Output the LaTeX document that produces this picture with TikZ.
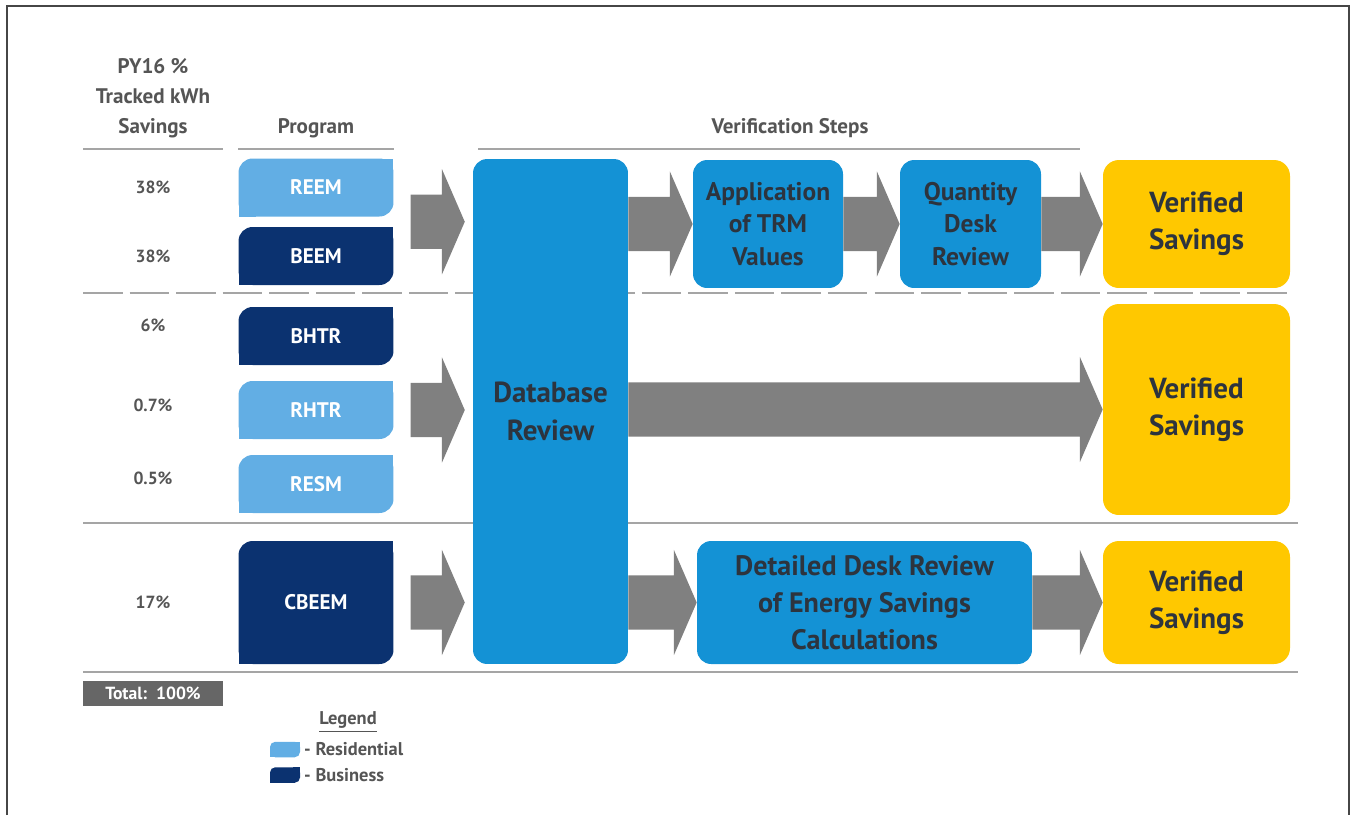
\documentclass[tikz,border=0pt]{standalone}
\usepackage{fontspec}
\setmainfont{PT Sans}
\usepackage{xcolor}
\usetikzlibrary{calc,positioning}
\definecolor{resblue}{RGB}{98,174,228}
\definecolor{busblue}{RGB}{11,50,112}
\definecolor{stepblue}{RGB}{20,146,213}
\definecolor{savyellow}{RGB}{255,200,0}
\definecolor{arrowgray}{RGB}{128,128,128}
\definecolor{rulegray}{RGB}{165,165,165}
\definecolor{txtgray}{RGB}{85,85,85}
\definecolor{boxtxt}{RGB}{45,52,62}
\definecolor{framegray}{RGB}{70,70,70}
\tikzset{%
	progbox/.style = {rectangle, fill=white, inner sep=0pt, minimum width=3.1cm, minimum height=1.16cm, text=white, font=\bfseries\fontsize{12}{14}\selectfont,
		path picture={\fill[#1, rounded corners=8pt] (path picture bounding box.south west) rectangle (path picture bounding box.north east);
			\fill[#1] (path picture bounding box.north east) rectangle ++(-10pt,-10pt);
			\fill[#1] (path picture bounding box.south west) rectangle ++(10pt,10pt);}},
	legbox/.style  = {rectangle, fill=white, inner sep=0pt, minimum width=0.6cm, minimum height=0.31cm,
		path picture={\fill[#1, rounded corners=3pt] (path picture bounding box.south west) rectangle (path picture bounding box.north east);
			\fill[#1] (path picture bounding box.north east) rectangle ++(-4pt,-4pt);
			\fill[#1] (path picture bounding box.south west) rectangle ++(4pt,4pt);}},
	stepbox/.style = {rectangle, rounded corners=8pt, fill=stepblue, text=boxtxt, align=center, inner sep=0pt, font=\bfseries\fontsize{14.5}{18.7}\selectfont},
	savebox/.style = {rectangle, rounded corners=9pt, fill=savyellow, text=boxtxt, align=center, inner sep=0pt, minimum width=3.74cm, font=\bfseries\fontsize{16.5}{21}\selectfont},
	pct/.style     = {text=txtgray, font=\bfseries\fontsize{10}{12}\selectfont},
	head/.style    = {text=txtgray, align=center, font=\bfseries\fontsize{12}{17}\selectfont},
	legtxt/.style  = {text=txtgray, inner sep=0pt, font=\bfseries\fontsize{10.5}{12}\selectfont},
	hrule/.style   = {rulegray, line width=1.2pt},
}
% gray block arrow from #1 to the tip #2 (at the height of #1)
\newcommand{\blkarrow}[2]{%
	\fill[arrowgray] let \p1=(#1), \p2=(#2) in
		(\x1,\y1+15.5pt) -- (\x2-13pt,\y1+15.5pt) -- (\x2-13pt,\y1+30pt) -- (\x2,\y1)
		-- (\x2-13pt,\y1-30pt) -- (\x2-13pt,\y1-15.5pt) -- (\x1,\y1-15.5pt) -- cycle;}

\begin{document}
\begin{tikzpicture}[x=0.02cm,y=-0.02cm]
	\useasboundingbox (0,0) rectangle (1354,815);
	\draw[framegray, line width=1.2pt] (7,815) -- (7,6) -- (1349,6) -- (1349,815);
	
	% headers
	\node (hpct) [head] at (153,98) {PY16 \%\\Tracked kWh\\Savings};
	\node (hprog) [head] at (316,128) {Program};
	\node (hver) [head] at (790,128) {Verification Steps};
	\draw[hrule] (83,149) -- (223,149);
	\draw[hrule] (238,149) -- (394,149);
	\draw[hrule] (478,149) -- (1080,149);
	
	% group separators
	\draw[rulegray, line width=1.2pt, dash pattern=on 22.5pt off 4pt] (83,293) -- (1291,293);
	\draw[hrule] (83,523) -- (1298,523);
	\draw[hrule] (83,672) -- (1298,672);
	
	% programs
	\node (reem) [progbox=resblue] at (316,187.5) {REEM};
	\node (beem) [progbox=busblue] at (316,256) {BEEM};
	\node (bhtr) [progbox=busblue] at (316,336) {BHTR};
	\node (rhtr) [progbox=resblue] at (316,410) {RHTR};
	\node (resm) [progbox=resblue] at (316,484) {RESM};
	\node (cbeem) [progbox=busblue, minimum height=2.46cm] at (316,602.5) {CBEEM};
	
	\node (p1) [pct] at (153,187) {38\%};
	\node (p2) [pct] at (153,256) {38\%};
	\node (p3) [pct] at (153,325) {6\%};
	\node (p4) [pct] at (153,405) {0.7\%};
	\node (p5) [pct] at (153,478) {0.5\%};
	\node (p6) [pct] at (153,602) {17\%};
	\node (total) [fill=black!60, text=white, minimum width=2.8cm, minimum height=0.5cm, inner sep=0pt, font=\bfseries\fontsize{10}{12}\selectfont] at (153,693.5) {Total:\ \ 100\%};
	
	% verification steps
	\node (dbr) [stepbox, minimum width=3.1cm, minimum height=10.1cm, font=\bfseries\fontsize{16.5}{21.5}\selectfont] at (550.5,411.5) {Database\\Review};
	\node (app) [stepbox, minimum width=3cm, minimum height=2.56cm] at (768,224) {Application\\of TRM\\Values};
	\node (qdr) [stepbox, minimum width=2.82cm, minimum height=2.56cm] at (970.5,224) {Quantity\\Desk\\Review};
	\node (ddr) [stepbox, minimum width=6.7cm, minimum height=2.46cm, font=\bfseries\fontsize{16}{21}\selectfont] at (864.5,602.5) {Detailed Desk Review\\of Energy Savings\\Calculations};
	\node (ver1) [savebox, minimum height=2.56cm] at (1196.5,224) {Verified\\Savings};
	\node (ver2) [savebox, minimum height=4.22cm] at (1196.5,409.5) {Verified\\Savings};
	\node (ver3) [savebox, minimum height=2.46cm] at (1196.5,602.5) {Verified\\Savings};
	
	% arrows
	\blkarrow{$(reem.east)!.5!(beem.east)+(9.5pt,0)$}{$(dbr.west)+(-4.5pt,0)$}
	\blkarrow{$(rhtr.east)+(9.5pt,0)$}{$(dbr.west)+(-4.5pt,0)$}
	\blkarrow{$(cbeem.east)+(9.5pt,0)$}{$(dbr.west)+(-4.5pt,0)$}
	\blkarrow{dbr.east |- app.west}{app.west}
	\blkarrow{app.east}{qdr.west}
	\blkarrow{qdr.east}{ver1.west}
	\blkarrow{dbr.east |- ver2.west}{ver2.west}
	\blkarrow{dbr.east |- ddr.west}{ddr.west}
	\blkarrow{ddr.east}{ver3.west}
	
	% legend
	\node (leg) [legtxt] at (348,722) {\underline{Legend}};
	\node (legres) [legbox=resblue] at (285,749.5) {};
	\node (legbus) [legbox=busblue] at (285,775) {};
	\node (legrestxt) [legtxt, right=2pt of legres] {- Residential};
	\node (legbustxt) [legtxt, right=2pt of legbus] {- Business};
\end{tikzpicture}
\end{document}
